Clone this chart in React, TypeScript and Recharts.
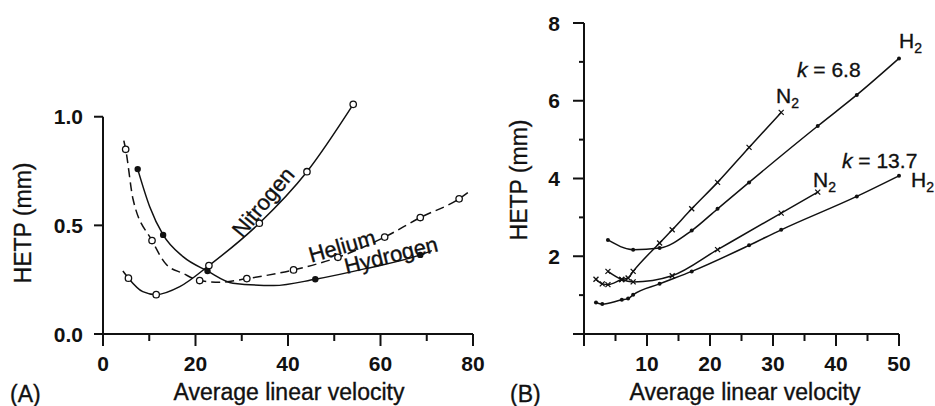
import { ComposedChart, Line, Scatter, XAxis, YAxis, ReferenceLine } from "recharts";

type Pt = [number, number];

const INK = "#111111";
const FONT = "'Liberation Sans', Arial, Helvetica, sans-serif";

// ---- panel A: HETP (mm) against average linear velocity ----
const heliumPoints: Pt[] = [
  [4.9, 0.85], [10.6, 0.43], [20.9, 0.246], [31.1, 0.255], [41.2, 0.295],
  [50.8, 0.353], [60.9, 0.446], [68.6, 0.536], [77.0, 0.622],
];
const heliumCurve: Pt[] = [
  [4.5, 0.89], [4.9, 0.85], [6.5, 0.62], [10.6, 0.43], [13.7, 0.32], [17.3, 0.279],
  [20.9, 0.246], [25.2, 0.238], [31.1, 0.255], [41.2, 0.295], [50.8, 0.353],
  [60.9, 0.446], [68.6, 0.536], [77.0, 0.622], [79.5, 0.66],
];
const nitrogenPoints: Pt[] = [
  [5.5, 0.257], [11.5, 0.181], [22.9, 0.315], [33.8, 0.51], [44.1, 0.747], [54.1, 1.057],
];
const nitrogenCurve: Pt[] = [
  [4.3, 0.29], [5.5, 0.257], [8.6, 0.195], [11.5, 0.181], [16.6, 0.218],
  [22.9, 0.315], [33.8, 0.51], [44.1, 0.747], [54.1, 1.057],
];
const hydrogenPoints: Pt[] = [
  [7.5, 0.759], [13.0, 0.456], [22.6, 0.29], [45.9, 0.252], [68.6, 0.364],
];
const hydrogenCurve: Pt[] = [
  [7.5, 0.759], [10.1, 0.586], [13.0, 0.456], [17.3, 0.356], [22.6, 0.29],
  [28.1, 0.234], [36.9, 0.223], [45.9, 0.252], [57.0, 0.302], [68.6, 0.364], [71.1, 0.384],
];
const ticksAX = [0, 10, 20, 30, 40, 50, 60, 70, 80];
const labelsAX = [0, 20, 40, 60, 80];
const ticksAY = [0, 0.5, 1];

// ---- panel B: k = 6.8 and k = 13.7 columns ----
const n2k68: Pt[] = [
  [1.9, 1.41], [2.9, 1.29], [3.8, 1.27], [6.0, 1.4], [7.0, 1.44], [7.8, 1.61],
  [12.0, 2.34], [14.0, 2.68], [17.1, 3.22], [21.2, 3.9], [26.2, 4.8], [31.3, 5.7],
];
const h2k68: Pt[] = [
  [3.8, 2.42], [7.8, 2.17], [12.0, 2.21], [17.1, 2.66], [21.2, 3.22],
  [26.2, 3.9], [37.1, 5.35], [43.3, 6.15], [50.0, 7.09],
];
const n2k137: Pt[] = [
  [3.8, 1.61], [6.0, 1.4], [7.8, 1.34], [14.0, 1.5], [21.2, 2.17], [31.3, 3.11], [37.1, 3.65],
];
const h2k137: Pt[] = [
  [1.9, 0.81], [2.9, 0.77], [6.0, 0.88], [7.0, 0.91], [7.8, 1.01], [12.0, 1.29],
  [17.1, 1.61], [26.2, 2.28], [31.3, 2.68], [43.3, 3.54], [50.0, 4.07],
];
const ticksBX = [0, 5, 10, 15, 20, 25, 30, 35, 40, 45, 50];
const labelsBX = [10, 20, 30, 40, 50];
const ticksBY = [0, 1, 2, 3, 4, 5, 6, 7, 8];
const labelsBY = [2, 4, 6, 8];

const rows = (pts: Pt[]) => pts.map(([x, y]) => ({ x, y }));

const makeXTick = (labels: number[], majorEvery: number) => (props: any) => {
  const { x, y, payload } = props;
  const v = payload.value as number;
  const major = v % majorEvery === 0;
  return (
    <g>
      <line x1={x} y1={y} x2={x} y2={y + (major ? 12 : 7)} stroke={INK} strokeWidth={2} />
      {labels.includes(v) && (
        <text x={x} y={y + 37} textAnchor="middle" fontFamily={FONT} fontSize={21} fontWeight="bold" fill={INK}>
          {v}
        </text>
      )}
    </g>
  );
};

const makeYTick = (labels: number[], majorEvery: number, fmt: (v: number) => string, gap: number, len: number) =>
  (props: any) => {
    const { x, y, payload } = props;
    const v = payload.value as number;
    const major = Math.abs(v / majorEvery - Math.round(v / majorEvery)) < 1e-6;
    return (
      <g>
        <line x1={x - (major ? len : 5)} y1={y} x2={x} y2={y} stroke={INK} strokeWidth={2} />
        {labels.includes(v) && (
          <text x={x - gap} y={y} dy="0.36em" textAnchor="end" fontFamily={FONT} fontSize={21} fontWeight="bold" fill={INK}>
            {fmt(v)}
          </text>
        )}
      </g>
    );
  };

const openDot = (props: any) => (
  <circle cx={props.cx} cy={props.cy} r={3.2} fill="#fff" stroke={INK} strokeWidth={1.3} />
);
const fullDot = (props: any) => <circle cx={props.cx} cy={props.cy} r={3.2} fill={INK} />;
const smallDot = (props: any) => <circle cx={props.cx} cy={props.cy} r={2} fill={INK} />;
const smallCross = (props: any) => (
  <g stroke={INK} strokeWidth={1.3}>
    <line x1={props.cx - 2.5} y1={props.cy - 2.5} x2={props.cx + 2.5} y2={props.cy + 2.5} />
    <line x1={props.cx - 2.5} y1={props.cy + 2.5} x2={props.cx + 2.5} y2={props.cy - 2.5} />
  </g>
);

function PanelA() {
  return (
    <ComposedChart width={490} height={406} margin={{ top: 95, right: 17, bottom: 32, left: 63 }}>
      <XAxis
        dataKey="x"
        type="number"
        domain={[0, 80]}
        ticks={ticksAX}
        interval={0}
        height={40}
        tickSize={0}
        tickMargin={0}
        tickLine={false}
        axisLine={{ stroke: INK, strokeWidth: 2 }}
        tick={makeXTick(labelsAX, 20)}
      />
      <YAxis
        type="number"
        domain={[0, 1.1]}
        ticks={ticksAY}
        interval={0}
        width={40}
        tickSize={0}
        tickMargin={0}
        tickLine={false}
        axisLine={false}
        tick={makeYTick(ticksAY, 0.5, (v) => v.toFixed(1), 20, 9)}
      />
      <ReferenceLine segment={[{ x: 0, y: 0 }, { x: 0, y: 1 }]} stroke={INK} strokeWidth={2} />
      <Line data={rows(heliumCurve)} dataKey="y" type="monotone" stroke={INK} strokeWidth={1.5} strokeDasharray="9 5" dot={false} isAnimationActive={false} />
      <Line data={rows(nitrogenCurve)} dataKey="y" type="monotone" stroke={INK} strokeWidth={1.5} dot={false} isAnimationActive={false} />
      <Line data={rows(hydrogenCurve)} dataKey="y" type="monotone" stroke={INK} strokeWidth={1.5} dot={false} isAnimationActive={false} />
      <Scatter data={rows(heliumPoints)} dataKey="y" shape={openDot} isAnimationActive={false} />
      <Scatter data={rows(nitrogenPoints)} dataKey="y" shape={openDot} isAnimationActive={false} />
      <Scatter data={rows(hydrogenPoints)} dataKey="y" shape={fullDot} isAnimationActive={false} />
    </ComposedChart>
  );
}

function PanelB() {
  return (
    <ComposedChart width={445} height={406} margin={{ top: 23, right: 36, bottom: 32, left: 54 }}>
      <XAxis
        dataKey="x"
        type="number"
        domain={[0, 50]}
        ticks={ticksBX}
        interval={0}
        height={40}
        tickSize={0}
        tickMargin={0}
        tickLine={false}
        axisLine={{ stroke: INK, strokeWidth: 2 }}
        tick={makeXTick(labelsBX, 10)}
      />
      <YAxis
        type="number"
        domain={[0, 8]}
        ticks={ticksBY}
        interval={0}
        width={40}
        tickSize={0}
        tickMargin={0}
        tickLine={false}
        axisLine={{ stroke: INK, strokeWidth: 2 }}
        tick={makeYTick(labelsBY, 2, (v) => String(v), 24, 11)}
      />
      {[n2k68, h2k68, n2k137, h2k137].map((pts, i) => (
        <Line key={i} data={rows(pts)} dataKey="y" type="monotone" stroke={INK} strokeWidth={1.5} dot={false} isAnimationActive={false} />
      ))}
      <Scatter data={rows(n2k68)} dataKey="y" shape={smallCross} isAnimationActive={false} />
      <Scatter data={rows(n2k137)} dataKey="y" shape={smallCross} isAnimationActive={false} />
      <Scatter data={rows(h2k68)} dataKey="y" shape={smallDot} isAnimationActive={false} />
      <Scatter data={rows(h2k137)} dataKey="y" shape={smallDot} isAnimationActive={false} />
    </ComposedChart>
  );
}

function Sub({ x, y, main, sub }: { x: number; y: number; main: string; sub: string }) {
  return (
    <text x={x} y={y} fontFamily={FONT} fontSize={21} fill={INK} stroke={INK} strokeWidth={0.35}>
      {main}
      <tspan fontSize={14} dy={5}>{sub}</tspan>
    </text>
  );
}

export default function App() {
  const t = { fontFamily: FONT, fontSize: 23, fill: INK, stroke: INK, strokeWidth: 0.35 } as const;
  const a = { fontFamily: FONT, fontSize: 22, fill: INK, stroke: INK, strokeWidth: 0.35 } as const;
  return (
    <div style={{ position: "absolute", left: 0, top: 0, width: 935, height: 406, background: "#fff", overflow: "hidden" }}>
      <div style={{ position: "absolute", left: 0, top: 0 }}>
        <PanelA />
      </div>
      <div style={{ position: "absolute", left: 490, top: 0 }}>
        <PanelB />
      </div>
      <svg width={935} height={406} style={{ position: "absolute", left: 0, top: 0, pointerEvents: "none" }}>
        <text {...t} x={31} y={223} textAnchor="middle" transform="rotate(-90 31 223)">HETP (mm)</text>
        <text {...t} x={289} y={400} textAnchor="middle">Average linear velocity</text>
        <text {...t} x={10} y={402}>(A)</text>
        <text {...a} transform="translate(263 202) rotate(-50)" textAnchor="middle" dy="0.35em">Nitrogen</text>
        <text {...a} transform="translate(342 246) rotate(-16)" textAnchor="middle" dy="0.35em">Helium</text>
        <text {...a} transform="translate(391 255) rotate(-14)" textAnchor="middle" dy="0.35em">Hydrogen</text>

        <text {...t} x={527} y={180} textAnchor="middle" transform="rotate(-90 527 180)">HETP (mm)</text>
        <text {...t} x={745} y={400} textAnchor="middle">Average linear velocity</text>
        <text {...t} x={510} y={402}>(B)</text>
        <Sub x={899} y={48} main="H" sub="2" />
        <text x={797} y={77} fontFamily={FONT} fontSize={21} fill={INK} stroke={INK} strokeWidth={0.35}>
          <tspan fontStyle="italic">k</tspan> = 6.8
        </text>
        <Sub x={776} y={103} main="N" sub="2" />
        <text x={842} y={168} fontFamily={FONT} fontSize={21} fill={INK} stroke={INK} strokeWidth={0.35}>
          <tspan fontStyle="italic">k</tspan> = 13.7
        </text>
        <Sub x={813} y={187} main="N" sub="2" />
        <Sub x={911} y={187} main="H" sub="2" />
      </svg>
    </div>
  );
}
